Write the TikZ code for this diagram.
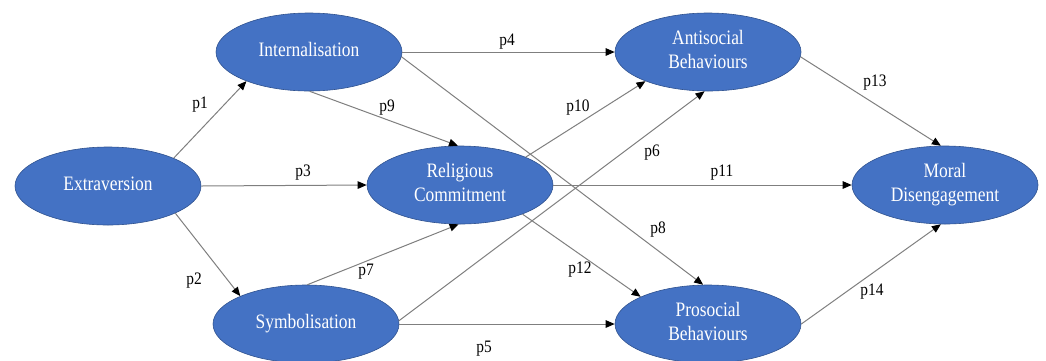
\documentclass[tikz,border=0pt]{standalone}
\usepackage{fontspec}
\setmainfont{Liberation Serif}
\usetikzlibrary{shapes.geometric,arrows.meta}
\definecolor{nodefill}{HTML}{4472C4}
\definecolor{nodeline}{HTML}{2F528F}
\definecolor{conn}{HTML}{7F7F7F}
\newcommand{\ntxt}[1]{\scalebox{0.85}[1]{\begin{tabular}{@{}c@{}}#1\end{tabular}}}
\newcommand{\ltxt}[1]{\scalebox{0.88}[1]{#1}}
\tikzset{
  var/.style={ellipse, fill=nodefill, draw=nodeline, line width=0.6pt,
    minimum width=186pt, minimum height=78pt, inner sep=0pt,
    text=white, font=\fontsize{20.5}{23.5}\selectfont},
  conn/.style={draw=conn, line width=1pt, -{Triangle[length=9pt,width=7.5pt,color=black]}},
  lab/.style={font=\fontsize{17.5}{20}\selectfont, text=black, inner sep=0pt}
}
\begin{document}
\begin{tikzpicture}[x=1pt,y=-1pt]
\useasboundingbox (0,0) rectangle (1046,360);
\clip (0,0) rectangle (1046,360);
\node[var] (ext) at (108,186) {\ntxt{Extraversion}};
\node[var] (int) at (309,52) {\ntxt{Internalisation}};
\node[var] (rel) at (460,185) {\ntxt{Religious\\Commitment}};
\node[var] (sym) at (306,324) {\ntxt{Symbolisation}};
\node[var] (anti) at (708,52) {\ntxt{Antisocial\\Behaviours}};
\node[var] (pro) at (708,324) {\ntxt{Prosocial\\Behaviours}};
\node[var] (mor) at (945,185) {\ntxt{Moral\\Disengagement}};

\draw[conn] (ext.23) -- (int.205);
\draw[conn] (ext.-22) -- (sym.157);
\draw[conn] (ext.east) -- (rel.west);
\draw[conn] (int.-89) -- (rel.93);
\draw[conn] (int.east) -- (anti.west);
\draw[conn] (int.-3) -- (pro.97);
\draw[conn] (rel.23) -- (anti.205);
\draw[conn] (sym.2) -- (anti.265);
\draw[conn] (sym.88) -- (rel.-92);
\draw[conn] (rel.east) -- (mor.west);
\draw[conn] (rel.-25) -- (pro.158);
\draw[conn] (sym.east) -- (pro.west);
\draw[conn] (anti.-3) -- (mor.96);
\draw[conn] (pro.east) -- (mor.-96);

\node[lab] (l1) at (200,105) {\ltxt{p1}};
\node[lab] (l2) at (194,281) {\ltxt{p2}};
\node[lab] (l3) at (303,173) {\ltxt{p3}};
\node[lab] (l4) at (507,42) {\ltxt{p4}};
\node[lab] (l5) at (484,349) {\ltxt{p5}};
\node[lab] (l6) at (652,153) {\ltxt{p6}};
\node[lab] (l7) at (366,272) {\ltxt{p7}};
\node[lab] (l8) at (658,230) {\ltxt{p8}};
\node[lab] (l9) at (387,108) {\ltxt{p9}};
\node[lab] (l10) at (578,108) {\ltxt{p10}};
\node[lab] (l11) at (722,173) {\ltxt{p11}};
\node[lab] (l12) at (580,270) {\ltxt{p12}};
\node[lab] (l13) at (875,83) {\ltxt{p13}};
\node[lab] (l14) at (872,292) {\ltxt{p14}};
\end{tikzpicture}
\end{document}
